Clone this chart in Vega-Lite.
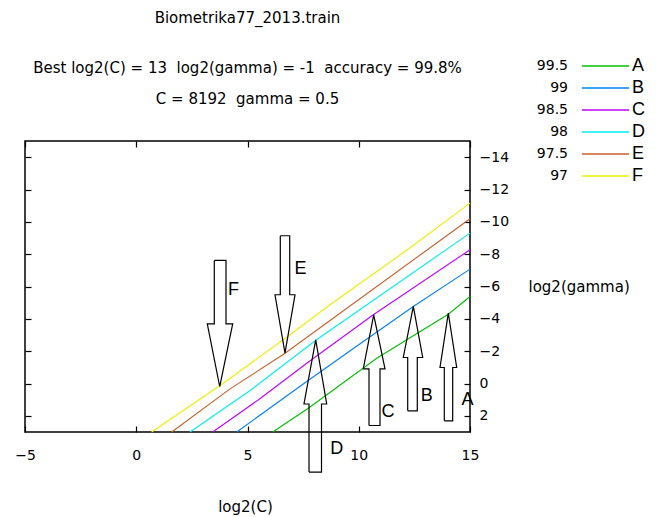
{
  "$schema": "https://vega.github.io/schema/vega-lite/v6.json",
  "width": 445,
  "height": 291,
  "autosize": {"type": "none"},
  "padding": {"left": 25, "top": 141, "right": 186, "bottom": 85},
  "background": "white",
  "title": {
    "text": "Biometrika77_2013.train",
    "subtitle": ["Best log2(C) = 13\u00a0 log2(gamma) = -1\u00a0 accuracy = 99.8%", "C = 8192\u00a0 gamma = 0.5"],
    "anchor": "middle",
    "frame": "group",
    "font": "DejaVu Sans",
    "fontSize": 15,
    "fontWeight": "normal",
    "color": "#000",
    "subtitleFont": "DejaVu Sans",
    "subtitleFontSize": 15,
    "subtitleColor": "#000",
    "subtitlePadding": 35,
    "subtitleLineHeight": 31,
    "offset": -52
  },
  "datasets": {
    "contours": [
      {"letter": "F", "level": "97", "x": 0.69, "y": 3},
      {"letter": "F", "level": "97", "x": 3.764, "y": 0.124},
      {"letter": "F", "level": "97", "x": 6.685, "y": -2.785},
      {"letter": "F", "level": "97", "x": 8.708, "y": -4.87},
      {"letter": "F", "level": "97", "x": 12.079, "y": -8.168},
      {"letter": "F", "level": "97", "x": 15, "y": -11.157},
      {"letter": "E", "level": "97.5", "x": 1.593, "y": 3},
      {"letter": "E", "level": "97.5", "x": 4.2, "y": 0.35},
      {"letter": "E", "level": "97.5", "x": 6.685, "y": -1.875},
      {"letter": "E", "level": "97.5", "x": 8.708, "y": -3.9},
      {"letter": "E", "level": "97.5", "x": 12.978, "y": -8.168},
      {"letter": "E", "level": "97.5", "x": 15, "y": -10.192},
      {"letter": "D", "level": "98", "x": 2.416, "y": 3},
      {"letter": "D", "level": "98", "x": 5.1, "y": 0.45},
      {"letter": "D", "level": "98", "x": 8.056, "y": -2.661},
      {"letter": "D", "level": "98", "x": 10.64, "y": -5.136},
      {"letter": "D", "level": "98", "x": 15, "y": -9.301},
      {"letter": "C", "level": "98.5", "x": 3.436, "y": 3},
      {"letter": "C", "level": "98.5", "x": 5.6, "y": 0.9},
      {"letter": "C", "level": "98.5", "x": 7.661, "y": -1.256},
      {"letter": "C", "level": "98.5", "x": 10.654, "y": -4.251},
      {"letter": "C", "level": "98.5", "x": 15, "y": -8.274},
      {"letter": "B", "level": "99", "x": 4.515, "y": 3},
      {"letter": "B", "level": "99", "x": 7.661, "y": -0.124},
      {"letter": "B", "level": "99", "x": 9.9, "y": -2.3},
      {"letter": "B", "level": "99", "x": 12.452, "y": -4.765},
      {"letter": "B", "level": "99", "x": 15, "y": -7.073},
      {"letter": "A", "level": "99.5", "x": 6.133, "y": 3},
      {"letter": "A", "level": "99.5", "x": 7.733, "y": 1.528},
      {"letter": "A", "level": "99.5", "x": 10.807, "y": -1.566},
      {"letter": "A", "level": "99.5", "x": 14.025, "y": -4.288},
      {"letter": "A", "level": "99.5", "x": 15, "y": -5.384}
    ],
    "arrows": [
      {"arrow": "F", "i": 0, "x": 3.508, "y": -7.611},
      {"arrow": "F", "i": 1, "x": 4.034, "y": -7.611},
      {"arrow": "F", "i": 2, "x": 4.034, "y": -3.694},
      {"arrow": "F", "i": 3, "x": 4.335, "y": -3.694},
      {"arrow": "F", "i": 4, "x": 3.751, "y": 0.186},
      {"arrow": "F", "i": 5, "x": 3.193, "y": -3.694},
      {"arrow": "F", "i": 6, "x": 3.508, "y": -3.694},
      {"arrow": "F", "i": 7, "x": 3.508, "y": -7.611},
      {"arrow": "E", "i": 0, "x": 6.474, "y": -9.14},
      {"arrow": "E", "i": 1, "x": 6.897, "y": -9.14},
      {"arrow": "E", "i": 2, "x": 6.897, "y": -5.489},
      {"arrow": "E", "i": 3, "x": 7.135, "y": -5.489},
      {"arrow": "E", "i": 4, "x": 6.685, "y": -1.875},
      {"arrow": "E", "i": 5, "x": 6.236, "y": -5.489},
      {"arrow": "E", "i": 6, "x": 6.474, "y": -5.489},
      {"arrow": "E", "i": 7, "x": 6.474, "y": -9.14},
      {"arrow": "D", "i": 0, "x": 7.764, "y": 5.476},
      {"arrow": "D", "i": 1, "x": 8.326, "y": 5.476},
      {"arrow": "D", "i": 2, "x": 8.326, "y": 1.269},
      {"arrow": "D", "i": 3, "x": 8.56, "y": 1.269},
      {"arrow": "D", "i": 4, "x": 8.065, "y": -2.704},
      {"arrow": "D", "i": 5, "x": 7.539, "y": 1.269},
      {"arrow": "D", "i": 6, "x": 7.764, "y": 1.269},
      {"arrow": "D", "i": 7, "x": 7.764, "y": 5.476},
      {"arrow": "C", "i": 0, "x": 10.461, "y": 2.599},
      {"arrow": "C", "i": 1, "x": 10.955, "y": 2.599},
      {"arrow": "C", "i": 2, "x": 10.955, "y": -0.91},
      {"arrow": "C", "i": 3, "x": 11.18, "y": -0.91},
      {"arrow": "C", "i": 4, "x": 10.672, "y": -4.251},
      {"arrow": "C", "i": 5, "x": 10.204, "y": -0.91},
      {"arrow": "C", "i": 6, "x": 10.461, "y": -0.91},
      {"arrow": "C", "i": 7, "x": 10.461, "y": 2.599},
      {"arrow": "B", "i": 0, "x": 12.2, "y": 1.689},
      {"arrow": "B", "i": 1, "x": 12.631, "y": 1.689},
      {"arrow": "B", "i": 2, "x": 12.631, "y": -1.609},
      {"arrow": "B", "i": 3, "x": 12.874, "y": -1.609},
      {"arrow": "B", "i": 4, "x": 12.452, "y": -4.765},
      {"arrow": "B", "i": 5, "x": 12.002, "y": -1.609},
      {"arrow": "B", "i": 6, "x": 12.2, "y": -1.609},
      {"arrow": "B", "i": 7, "x": 12.2, "y": 1.689},
      {"arrow": "A", "i": 0, "x": 13.845, "y": 2.308},
      {"arrow": "A", "i": 1, "x": 14.222, "y": 2.308},
      {"arrow": "A", "i": 2, "x": 14.222, "y": -0.99},
      {"arrow": "A", "i": 3, "x": 14.402, "y": -0.99},
      {"arrow": "A", "i": 4, "x": 14.025, "y": -4.35},
      {"arrow": "A", "i": 5, "x": 13.652, "y": -0.99},
      {"arrow": "A", "i": 6, "x": 13.845, "y": -0.99},
      {"arrow": "A", "i": 7, "x": 13.845, "y": 2.308}
    ],
    "letters": [
      {"t": "F", "x": 4.37, "y": -5.8},
      {"t": "E", "x": 7.382, "y": -7.098},
      {"t": "D", "x": 9.009, "y": 4.041},
      {"t": "C", "x": 11.315, "y": 1.733},
      {"t": "B", "x": 13.06, "y": 0.755},
      {"t": "A", "x": 14.888, "y": 1.0}
    ]
  },
  "layer": [
    {
      "data": {"name": "contours"},
      "mark": {"type": "line", "strokeWidth": 1.1},
      "encoding": {
        "x": {
          "field": "x", "type": "quantitative",
          "scale": {"domain": [-5, 15], "nice": false, "zero": false},
          "axis": {
            "orient": "bottom", "values": [-5, 0, 5, 10, 15], "tickSize": -6,
            "labelPadding": 22, "labelFlush": false,
            "title": "log2(C)", "titleX": 220, "titleY": 74,
            "titleAlign": "center", "titleBaseline": "middle"
          }
        },
        "y": {
          "field": "y", "type": "quantitative",
          "scale": {"domain": [-15, 3], "reverse": true, "nice": false, "zero": false},
          "axis": {
            "orient": "right", "values": [-14, -12, -10, -8, -6, -4, -2, 0, 2], "tickSize": -6,
            "labelPadding": 15, "labelFlush": false,
            "title": "log2(gamma)", "titleAngle": 0, "titleAlign": "left",
            "titleBaseline": "middle", "titleX": 58, "titleY": 145
          }
        },
        "detail": {"field": "letter"},
        "color": {
          "field": "letter", "type": "nominal",
          "scale": {"domain": ["A", "B", "C", "D", "E", "F"], "range": ["#00c000", "#0080ff", "#c000ff", "#00eeee", "#c8602c", "#eeee00"]},
          "legend": {
            "orient": "none", "legendX": 556, "legendY": -86, "title": null,
            "symbolType": "stroke", "symbolSize": 2209, "symbolStrokeWidth": 1.5,
            "clipHeight": 22, "rowPadding": 0, "labelOffset": 2, "padding": 0,
            "labelFont": "Liberation Sans", "labelFontSize": 18, "labelColor": "#000"
          }
        }
      }
    },
    {
      "data": {"name": "arrows"},
      "mark": {"type": "line", "color": "#000", "strokeWidth": 1.2},
      "encoding": {
        "x": {"field": "x", "type": "quantitative", "axis": {"orient": "top", "values": [-5, 0, 5, 10, 15], "tickSize": -6, "labels": false, "title": null}},
        "y": {"field": "y", "type": "quantitative", "axis": {"orient": "left", "values": [-14, -12, -10, -8, -6, -4, -2, 0, 2], "tickSize": -6, "labels": false, "title": null}},
        "detail": {"field": "arrow"},
        "order": {"field": "i", "type": "quantitative"}
      }
    },
    {
      "data": {"name": "letters"},
      "mark": {"type": "text", "font": "Liberation Sans", "fontSize": 18, "align": "center", "baseline": "middle", "color": "#000"},
      "encoding": {
        "x": {"field": "x", "type": "quantitative", "axis": null},
        "y": {"field": "y", "type": "quantitative", "axis": null},
        "text": {"field": "t"}
      }
    },
    {
      "data": {"name": "contours"},
      "mark": {"type": "point", "opacity": 0},
      "encoding": {
        "x": {"field": "x", "type": "quantitative", "axis": null},
        "y": {"field": "y", "type": "quantitative", "axis": null},
        "shape": {
          "field": "level", "type": "nominal",
          "scale": {"domain": ["99.5", "99", "98.5", "98", "97.5", "97"]},
          "legend": {
            "orient": "none", "legendX": 529, "legendY": -86, "title": null,
            "symbolSize": 1, "symbolOpacity": 0, "symbolStrokeWidth": 0,
            "clipHeight": 22, "rowPadding": 0, "labelOffset": 0, "labelAlign": "right", "padding": 0,
            "labelFont": "DejaVu Sans", "labelFontSize": 14, "labelColor": "#000"
          }
        }
      }
    }
  ],
  "resolve": {"axis": {"x": "independent", "y": "independent"}},
  "config": {
    "view": {"stroke": "#000", "strokeWidth": 1.5},
    "font": "DejaVu Sans",
    "axis": {
      "labelFont": "DejaVu Sans", "labelFontSize": 14, "labelColor": "#000",
      "titleFont": "DejaVu Sans", "titleFontSize": 15, "titleFontWeight": "normal", "titleColor": "#000",
      "tickColor": "#000", "tickWidth": 1.2, "domain": false, "grid": false
    }
  }
}
